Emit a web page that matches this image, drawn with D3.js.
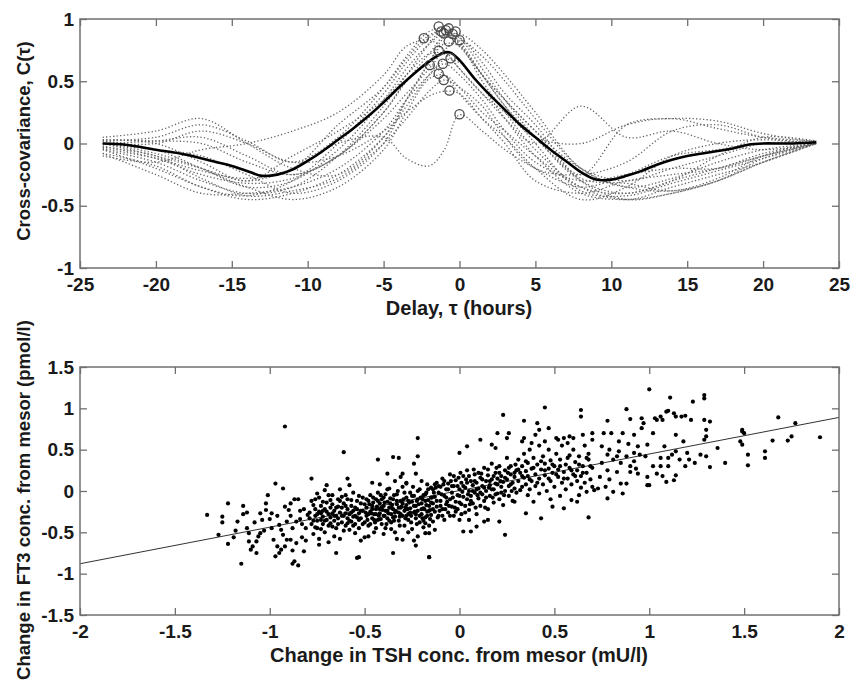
<!DOCTYPE html>
<html>
<head>
<meta charset="utf-8">
<script src="https://cdn.jsdelivr.net/npm/d3@7"></script>
<style>
  body { margin: 0; background: #fff; }
  svg text { font-family: "Liberation Sans", Arial, sans-serif; font-weight: bold; fill: #1a1a1a; }
</style>
</head>
<body>
<div id="chart"></div>
<script>
// ---- top panel: cross-covariance curves ----
const tauKnots = [-23.5, -20, -17, -14, -11, -8, -5, -3.5, -2, -1, 0, 1.5, 3, 5, 8, 11, 14, 17, 20, 23.5];

const subjectCurves = [
  [0.02, 0.05, 0.15, 0.02, -0.15, 0.05, 0.45, 0.70, 0.90, 0.92, 0.80, 0.55, 0.35, 0.10, -0.20, -0.30, -0.20, -0.10, 0.00, 0.01],
  [-0.05, -0.15, -0.30, -0.40, -0.35, -0.10, 0.30, 0.55, 0.80, 0.92, 0.85, 0.60, 0.35, 0.05, -0.30, -0.40, -0.30, -0.20, -0.10, 0.00],
  [0.00, -0.08, -0.20, -0.35, -0.30, -0.05, 0.35, 0.60, 0.80, 0.88, 0.80, 0.50, 0.25, -0.05, -0.35, -0.45, -0.35, -0.25, -0.15, 0.00],
  [0.05, 0.10, 0.20, 0.00, -0.20, -0.25, 0.05, 0.35, 0.65, 0.85, 0.88, 0.75, 0.55, 0.25, -0.20, -0.35, -0.38, -0.30, -0.12, 0.00],
  [-0.10, -0.15, -0.05, 0.00, 0.10, 0.25, 0.55, 0.78, 0.83, 0.75, 0.60, 0.40, 0.25, 0.05, 0.00, 0.15, 0.20, 0.12, 0.05, 0.02],
  [0.00, -0.05, -0.10, -0.25, -0.40, -0.30, 0.00, 0.35, 0.65, 0.80, 0.78, 0.55, 0.35, 0.10, -0.25, 0.15, 0.20, 0.18, 0.08, 0.01],
  [-0.02, -0.12, -0.25, -0.32, -0.28, -0.10, 0.20, 0.40, 0.60, 0.75, 0.83, 0.70, 0.50, 0.20, -0.20, -0.35, -0.28, -0.15, -0.05, 0.00],
  [0.03, 0.00, -0.15, -0.30, -0.10, 0.10, 0.35, 0.55, 0.72, 0.72, 0.60, 0.40, 0.20, 0.00, 0.30, 0.05, 0.10, 0.00, -0.05, 0.00],
  [-0.05, -0.20, -0.35, -0.45, -0.40, -0.25, 0.05, 0.30, 0.55, 0.67, 0.65, 0.45, 0.20, -0.10, -0.40, -0.45, -0.40, -0.30, -0.15, 0.00],
  [0.00, 0.02, 0.05, -0.10, -0.25, -0.10, 0.25, 0.50, 0.63, 0.55, 0.40, 0.20, 0.05, -0.20, -0.45, -0.35, -0.10, 0.00, 0.03, 0.00],
  [-0.08, -0.25, -0.40, -0.40, -0.35, -0.20, 0.10, 0.35, 0.55, 0.64, 0.55, 0.35, 0.10, -0.15, -0.30, -0.25, -0.20, -0.20, -0.10, 0.00],
  [0.02, -0.05, -0.20, -0.35, -0.45, -0.35, -0.05, 0.25, 0.52, 0.55, 0.45, 0.25, 0.10, -0.10, -0.35, -0.40, -0.30, -0.10, 0.05, 0.02],
  [-0.03, -0.10, -0.28, -0.42, -0.38, -0.28, 0.00, 0.20, 0.42, 0.51, 0.45, 0.30, 0.05, -0.20, -0.25, -0.15, 0.10, 0.15, 0.05, 0.00],
  [0.00, 0.00, 0.10, 0.00, -0.15, -0.10, 0.10, 0.25, 0.38, 0.42, 0.40, 0.20, 0.00, -0.30, -0.40, -0.30, -0.25, -0.20, -0.08, 0.00],
  [0.00, -0.10, -0.20, -0.30, -0.20, 0.00, 0.05, -0.12, -0.18, -0.05, 0.23, 0.10, -0.05, -0.20, -0.35, -0.25, -0.10, -0.05, 0.00, 0.00],
  [-0.08, -0.18, -0.35, -0.42, -0.30, 0.00, 0.40, 0.65, 0.85, 0.91, 0.82, 0.55, 0.30, 0.00, -0.38, -0.42, -0.32, -0.22, -0.12, 0.00],
  [0.03, 0.02, 0.00, -0.15, -0.25, -0.10, 0.25, 0.50, 0.72, 0.86, 0.85, 0.65, 0.40, 0.15, -0.30, -0.45, -0.40, -0.30, -0.15, 0.00],
  [-0.04, -0.12, -0.22, -0.28, -0.20, 0.15, 0.45, 0.68, 0.87, 0.90, 0.78, 0.55, 0.30, 0.05, -0.28, -0.32, -0.38, -0.28, -0.10, 0.01]
];

// mean curve (thick black)
const meanTau = [-23.5, -22, -20, -18, -16, -15, -14, -13, -12, -11, -10, -9, -8, -7, -6, -5, -4, -3, -2, -1, -0.6, 0,
  1, 2, 3, 4, 5, 6, 7, 8, 9, 10, 11, 12, 13, 14, 15, 16, 17, 18, 19, 20, 21, 22, 23.5];
const meanVal = [0, -0.01, -0.05, -0.09, -0.15, -0.18, -0.22, -0.26, -0.25, -0.21, -0.14, -0.06, 0.03, 0.12, 0.22, 0.33, 0.45, 0.56, 0.66, 0.73, 0.73, 0.67,
  0.52, 0.39, 0.27, 0.15, 0.05, -0.05, -0.14, -0.23, -0.29, -0.29, -0.26, -0.22, -0.17, -0.13, -0.10, -0.08, -0.06, -0.04, -0.01, 0.0, 0.0, 0.0, 0.01];

// peak of each subject curve
const peakTau = [-1.37, -0.71, -1.04, -0.26, -2.35, -0.71, 0.0, -1.37, -0.59, -1.96, -1.10, -1.37, -1.04, -0.66, 0.0, -0.9, -0.45, -1.2];
const peakVal = [0.94, 0.925, 0.885, 0.90, 0.845, 0.82, 0.83, 0.745, 0.685, 0.63, 0.64, 0.56, 0.51, 0.425, 0.235, 0.91, 0.88, 0.90];

const xTicksTop = [-25, -20, -15, -10, -5, 0, 5, 10, 15, 20, 25];
const yTicksTop = [-1, -0.5, 0, 0.5, 1];

// ---- bottom panel: TSH vs FT3 changes ----
const scatterPts = [
  // x < -0.8
  [-1.33,-0.29],[-1.25,-0.38],[-1.25,-0.31],[-1.27,-0.53],[-1.22,-0.15],[-1.22,-0.64],[-1.18,-0.48],[-1.15,-0.88],[-1.14,-0.18],[-1.14,-0.28],[-1.17,-0.37],
  [-1.12,-0.45],[-1.11,-0.51],[-1.11,-0.61],[-1.10,-0.71],[-1.07,-0.75],[-1.09,-0.67],[-1.07,-0.61],[-1.06,-0.55],[-1.05,-0.51],[-1.03,-0.48],[-1.04,-0.35],
  [-1.02,-0.23],[-1.02,-0.15],[-1.00,-0.34],[-0.99,-0.45],[-0.98,-0.59],[-0.96,-0.67],[-0.95,-0.75],[-0.97,-0.79],[-0.94,-0.71],[-0.92,-0.67],[-0.91,-0.59],
  [-0.93,-0.53],[-0.94,-0.47],[-0.95,-0.41],[-0.97,0.09],[-0.93,0.03],[-0.92,-0.19],[-0.89,-0.15],[-0.90,-0.23],[-0.89,-0.30],[-0.91,-0.37],[-0.88,-0.45],
  [-0.89,-0.59],[-0.88,-0.72],[-0.87,-0.85],[-0.88,-0.88],[-0.85,-0.90],[-0.82,-0.73],[-0.92,0.78],[-0.85,-0.10],[-0.87,-0.10],[-0.84,-0.34],[-0.83,-0.40],
  [-0.84,-0.24],[-0.82,-0.22],[-0.81,-0.45],[-0.83,-0.56],[-0.86,-0.63],[-0.80,-0.29],[-1.01,-0.05],[-0.99,-0.27],[-1.05,-0.27],[-1.08,-0.38],[-0.96,-0.30],
  [-0.86,-0.37],[-0.81,-0.60],[-0.78,0.15],[-1.12,-0.26],[-1.19,-0.56],
  // -0.8 .. -0.5
  [-0.77,-0.17],[-0.75,-0.03],[-0.74,-0.25],[-0.73,-0.35],[-0.72,-0.13],[-0.71,0.01],[-0.70,0.07],[-0.68,-0.11],[-0.67,-0.27],[-0.67,-0.43],[-0.66,-0.55],
  [-0.65,-0.75],[-0.64,-0.19],[-0.62,-0.07],[-0.61,0.47],[-0.60,-0.27],[-0.59,0.15],[-0.59,-0.39],[-0.58,0.07],[-0.57,-0.11],[-0.56,-0.31],[-0.55,-0.51],
  [-0.54,-0.81],[-0.53,-0.35],[-0.79,-0.33],[-0.78,-0.40],[-0.77,-0.52],[-0.76,-0.30],[-0.76,-0.22],[-0.75,-0.36],[-0.75,-0.45],[-0.74,-0.58],[-0.73,-0.27],
  [-0.73,-0.18],[-0.72,-0.40],[-0.72,-0.31],[-0.71,-0.22],[-0.71,-0.50],[-0.70,-0.35],[-0.70,-0.14],[-0.69,-0.28],[-0.69,-0.42],[-0.68,-0.32],[-0.68,-0.20],
  [-0.67,-0.05],[-0.66,-0.36],[-0.66,-0.24],[-0.65,-0.30],[-0.65,-0.45],[-0.64,-0.10],[-0.64,-0.33],[-0.63,-0.26],[-0.63,-0.58],[-0.62,-0.38],[-0.62,-0.20],
  [-0.61,-0.30],[-0.61,-0.15],[-0.60,-0.42],[-0.60,-0.05],[-0.59,-0.22],[-0.59,-0.33],[-0.58,-0.28],[-0.58,-0.47],[-0.57,-0.18],[-0.57,-0.37],[-0.56,-0.24],
  [-0.56,-0.02],[-0.55,-0.30],[-0.55,-0.40],[-0.54,-0.12],[-0.54,-0.22],[-0.53,-0.27],[-0.53,-0.45],[-0.52,-0.15],[-0.52,-0.33],[-0.51,-0.08],[-0.51,-0.24],
  [-0.50,-0.38],[-0.50,-0.56],[-0.52,-0.60],[-0.74,-0.65],[-0.69,-0.62],[-0.76,-0.10],[-0.63,0.02],
  [-0.79,-0.26],[-0.78,-0.12],[-0.77,-0.36],[-0.76,-0.44],[-0.75,-0.28],[-0.74,-0.08],[-0.73,-0.46],[-0.72,-0.24],[-0.71,-0.36],[-0.70,-0.25],[-0.69,-0.05],
  [-0.68,-0.39],[-0.67,-0.16],[-0.66,-0.30],[-0.65,-0.20],[-0.64,-0.40],[-0.63,-0.12],[-0.62,-0.30],[-0.61,-0.48],[-0.60,-0.18],[-0.59,-0.10],[-0.58,-0.36],
  [-0.57,-0.26],[-0.56,-0.42],[-0.55,-0.20],[-0.54,-0.32],[-0.53,-0.06],[-0.52,-0.24],[-0.51,-0.40],[-0.50,-0.16],
  // -0.5 .. -0.15
  [-0.43,0.38],[-0.35,0.41],[-0.32,0.40],[-0.22,0.64],[-0.22,0.42],[-0.24,0.33],[-0.35,-0.75],[-0.53,-0.80],[-0.16,-0.80],[-0.23,-0.66],[-0.30,-0.59],
  [-0.38,0.21],[-0.31,0.17],[-0.30,0.21],[-0.28,0.09],[-0.23,0.21],
  [-0.49,-0.20],[-0.49,-0.30],[-0.48,-0.12],[-0.48,-0.42],[-0.47,-0.25],[-0.47,-0.05],[-0.46,-0.33],[-0.46,-0.18],[-0.45,-0.28],[-0.45,-0.50],[-0.44,-0.10],
  [-0.44,-0.22],[-0.43,-0.35],[-0.43,-0.02],[-0.42,-0.27],[-0.42,-0.15],[-0.41,-0.40],[-0.41,-0.20],[-0.40,-0.30],[-0.40,-0.08],[-0.39,-0.24],[-0.39,-0.45],
  [-0.38,-0.13],[-0.38,-0.33],[-0.37,-0.20],[-0.37,0.03],[-0.36,-0.28],[-0.36,-0.38],[-0.35,-0.10],[-0.35,-0.22],[-0.34,-0.31],[-0.34,-0.50],[-0.33,-0.16],
  [-0.33,-0.04],[-0.32,-0.26],[-0.32,-0.36],[-0.31,-0.12],[-0.31,-0.20],[-0.30,-0.30],[-0.30,0.05],[-0.29,-0.24],[-0.29,-0.42],[-0.28,-0.08],[-0.28,-0.17],
  [-0.27,-0.28],[-0.27,-0.35],[-0.26,-0.02],[-0.26,-0.21],[-0.25,-0.13],[-0.25,-0.46],[-0.24,-0.26],[-0.24,-0.06],[-0.23,-0.33],[-0.23,-0.18],[-0.22,-0.10],
  [-0.22,-0.24],[-0.21,0.02],[-0.21,-0.38],[-0.20,-0.15],[-0.20,-0.28],[-0.19,-0.05],[-0.19,-0.21],[-0.18,-0.32],[-0.18,-0.12],[-0.17,0.08],[-0.17,-0.25],
  [-0.16,-0.18],[-0.16,-0.42],[-0.15,-0.08],[-0.15,-0.29],
  [-0.485,-0.35],[-0.475,-0.16],[-0.465,-0.27],[-0.455,-0.08],[-0.445,-0.38],[-0.435,-0.19],[-0.425,-0.30],[-0.415,-0.05],[-0.405,-0.23],[-0.395,-0.14],
  [-0.385,-0.40],[-0.375,-0.27],[-0.365,-0.09],[-0.355,-0.17],[-0.345,-0.36],[-0.335,-0.24],[-0.325,0.00],[-0.315,-0.31],[-0.305,-0.19],[-0.295,-0.10],
  [-0.285,-0.33],[-0.275,-0.22],[-0.265,-0.14],[-0.255,-0.30],[-0.245,0.05],[-0.235,-0.25],[-0.225,-0.40],[-0.215,-0.16],[-0.205,-0.08],[-0.195,-0.33],
  [-0.185,-0.22],[-0.175,-0.02],[-0.165,-0.11],[-0.155,-0.23],
  [-0.48,-0.55],[-0.44,-0.45],[-0.40,-0.52],[-0.36,-0.46],[-0.33,-0.58],[-0.27,-0.50],[-0.22,-0.55],[-0.19,-0.44],[-0.42,0.08],[-0.34,0.12],[-0.28,0.10],
  [-0.20,0.12],[-0.46,0.10],[-0.38,0.02],[-0.24,-0.60],
  [-0.495,-0.26],[-0.49,-0.10],[-0.48,-0.28],[-0.47,-0.40],[-0.46,-0.22],[-0.455,-0.14],[-0.45,-0.35],[-0.44,-0.28],[-0.43,-0.12],[-0.42,-0.22],
  [-0.415,-0.34],[-0.41,-0.10],[-0.40,-0.18],[-0.395,-0.30],[-0.39,-0.04],[-0.38,-0.24],[-0.37,-0.36],[-0.365,-0.15],[-0.36,-0.20],[-0.35,-0.32],
  [-0.345,-0.05],[-0.34,-0.26],[-0.33,-0.12],[-0.32,-0.20],[-0.315,-0.42],[-0.31,-0.28],[-0.30,-0.15],[-0.29,-0.02],[-0.285,-0.20],[-0.28,-0.30],
  [-0.27,-0.12],[-0.26,-0.26],[-0.255,-0.38],[-0.25,-0.06],[-0.24,-0.18],[-0.23,-0.28],[-0.225,-0.12],[-0.22,0.00],[-0.21,-0.30],[-0.20,-0.22],
  [-0.195,-0.10],[-0.19,-0.36],[-0.18,-0.04],[-0.175,-0.17],[-0.17,-0.30],[-0.165,0.02],[-0.16,-0.24],[-0.155,-0.34],[-0.15,-0.14],[-0.15,0.04],
  // -0.15 .. 0.3
  [0.23,0.92],[0.00,0.46],[0.20,0.70],[0.26,0.70],[0.25,0.64],[0.11,0.62],[0.04,0.54],[0.17,0.56],[0.19,0.52],
  [-0.16,-0.80],[0.24,-0.53],[0.02,-0.49],[0.06,-0.49],[0.00,-0.35],[0.05,-0.35],[0.09,-0.43],[0.13,-0.37],[0.15,-0.35],[0.21,-0.37],[-0.18,-0.51],
  [-0.16,-0.51],[-0.13,-0.47],[-0.18,-0.39],[-0.14,-0.37],
  [-0.14,-0.15],[-0.14,0.02],[-0.13,-0.25],[-0.13,-0.07],[-0.12,0.10],[-0.12,-0.19],[-0.11,-0.30],[-0.11,-0.02],[-0.10,-0.12],[-0.10,0.05],[-0.09,-0.22],
  [-0.09,0.15],[-0.08,-0.06],[-0.08,-0.35],[-0.07,-0.16],[-0.07,0.02],[-0.06,-0.26],[-0.06,0.09],[-0.05,-0.10],[-0.05,0.20],[-0.04,-0.19],[-0.04,-0.02],
  [-0.03,-0.30],[-0.03,0.06],[-0.02,-0.13],[-0.02,0.13],[-0.01,-0.05],[-0.01,-0.22],[0.00,0.02],[0.00,-0.14],[0.01,0.10],[0.01,-0.28],[0.02,-0.07],
  [0.02,0.18],[0.03,-0.18],[0.03,0.04],[0.04,-0.10],[0.04,0.25],[0.05,0.00],[0.05,-0.23],[0.06,0.12],[0.06,-0.06],[0.07,-0.15],[0.07,0.07],[0.08,0.20],
  [0.08,-0.02],[0.09,-0.28],[0.09,0.10],[0.10,-0.09],[0.10,0.03],[0.11,0.16],[0.11,-0.18],[0.12,0.06],[0.12,-0.04],[0.13,0.28],[0.13,-0.12],[0.14,0.12],
  [0.14,0.00],[0.15,-0.22],[0.15,0.19],[0.16,0.07],[0.16,-0.06],[0.17,0.33],[0.17,0.14],[0.18,-0.14],[0.18,0.02],[0.19,0.22],[0.19,0.09],[0.20,-0.03],
  [0.20,0.15],[0.21,0.30],[0.21,-0.10],[0.22,0.05],[0.22,0.18],[0.23,0.11],[0.23,-0.17],[0.24,0.25],[0.24,0.00],[0.25,0.14],[0.25,0.40],[0.26,0.06],
  [0.26,-0.06],[0.27,0.20],[0.27,0.30],[0.28,0.10],[0.28,-0.12],[0.29,0.17],[0.29,0.03],[0.30,0.25],[0.30,-0.02],
  [-0.145,-0.08],[-0.125,0.04],[-0.105,-0.24],[-0.085,0.08],[-0.065,-0.13],[-0.045,0.12],[-0.025,-0.20],[-0.005,0.16],[0.015,-0.01],[0.035,0.14],
  [0.055,-0.16],[0.075,0.26],[0.095,-0.05],[0.115,0.21],[0.135,-0.20],[0.155,0.04],[0.175,-0.08],[0.195,0.28],[0.215,0.12],[0.235,-0.05],[0.255,0.22],
  [0.275,0.00],[0.295,0.32],
  [-0.14,-0.22],[-0.135,-0.02],[-0.13,0.08],[-0.12,-0.12],[-0.115,-0.32],[-0.11,0.06],[-0.10,-0.18],[-0.095,-0.04],[-0.09,-0.30],[-0.08,0.12],
  [-0.075,-0.22],[-0.07,-0.08],[-0.06,0.02],[-0.055,-0.18],[-0.05,-0.30],[-0.04,0.06],[-0.035,-0.08],[-0.03,0.18],[-0.02,-0.25],[-0.01,0.06],
  [0.00,-0.06],[0.005,0.22],[0.01,-0.16],[0.02,0.06],[0.03,-0.26],[0.04,0.10],[0.045,-0.04],[0.05,0.18],[0.06,-0.12],[0.07,0.00],
  [0.08,0.12],[0.085,-0.20],[0.09,0.02],[0.10,0.22],[0.11,-0.02],[0.12,0.14],[0.13,0.04],[0.14,-0.08],[0.15,0.26],[0.16,0.12],
  [0.17,0.02],[0.18,0.18],[0.19,-0.04],[0.20,0.08],[0.21,0.22],[0.22,-0.02],[0.24,0.16],[0.26,0.28],[0.27,0.08],[0.29,0.22],
  // 0.3 .. 0.7
  [0.45,1.01],[0.34,0.85],[0.41,0.82],[0.42,0.74],[0.47,0.76],[0.40,0.68],[0.34,0.64],[0.51,0.64],[0.55,0.64],[0.58,0.66],[0.60,0.64],[0.64,0.98],
  [0.64,0.90],[0.65,0.68],[0.70,0.70],[0.70,0.62],[0.43,-0.33],[0.49,-0.19],[0.55,-0.21],[0.68,-0.32],[0.35,-0.27],[0.29,-0.13],[0.39,-0.13],[0.32,0.01],
  [0.59,-0.11],[0.62,-0.13],[0.71,0.01],[0.67,-0.01],
  [0.31,0.12],[0.31,0.38],[0.32,0.22],[0.33,0.05],[0.33,0.30],[0.34,0.16],[0.34,0.45],[0.35,0.24],[0.35,0.08],[0.36,0.34],[0.36,0.18],[0.37,0.50],
  [0.37,0.02],[0.38,0.27],[0.38,0.12],[0.39,0.40],[0.40,0.20],[0.40,0.06],[0.41,0.32],[0.42,0.15],[0.42,0.55],[0.43,0.26],[0.44,0.08],[0.44,0.42],
  [0.45,0.19],[0.45,0.33],[0.46,0.00],[0.47,0.27],[0.47,0.50],[0.48,0.12],[0.48,0.37],[0.49,0.22],[0.50,0.05],[0.50,0.30],[0.51,0.45],[0.52,0.17],
  [0.52,0.26],[0.53,0.38],[0.54,0.10],[0.54,0.55],[0.55,0.23],[0.56,0.32],[0.56,0.02],[0.57,0.15],[0.58,0.43],[0.58,0.28],[0.59,0.08],[0.60,0.20],
  [0.60,0.50],[0.61,0.35],[0.62,0.12],[0.62,0.25],[0.63,0.42],[0.64,0.18],[0.64,0.04],[0.65,0.30],[0.66,0.55],[0.66,0.10],[0.67,0.22],[0.68,0.38],
  [0.68,0.45],[0.69,0.14],[0.70,0.28],[0.70,0.05],[0.33,0.60],[0.38,0.58],[0.45,0.60],[0.52,0.62],[0.57,0.58],[0.36,-0.05],[0.42,-0.03],[0.53,-0.06],
  [0.48,-0.10],[0.63,-0.05],
  [0.31,0.26],[0.33,0.18],[0.35,0.36],[0.37,0.14],[0.39,0.28],[0.41,0.10],[0.43,0.36],[0.45,0.25],[0.47,0.15],[0.49,0.32],[0.51,0.20],[0.53,0.30],
  [0.55,0.15],[0.57,0.40],[0.59,0.25],[0.61,0.18],[0.63,0.32],[0.65,0.22],[0.67,0.40],[0.69,0.30],
  // 0.7 .. 1.0
  [0.78,0.85],[0.80,0.70],[0.76,0.70],[0.88,0.99],[0.90,0.87],[0.96,0.88],[0.97,0.82],[0.96,0.76],[0.86,0.70],[0.92,0.68],[0.84,0.60],[0.89,0.57],
  [0.94,0.54],[0.99,0.56],[0.79,0.50],[0.84,0.48],[0.78,0.44],[0.88,0.42],[0.92,0.46],[0.95,0.44],[0.81,0.38],[0.75,0.34],[0.85,0.34],[0.90,0.30],
  [0.78,0.25],[0.83,0.23],[0.90,0.23],[0.93,0.27],[0.74,0.17],[0.79,0.14],[0.85,0.09],[0.77,0.05],[0.81,-0.01],[0.88,0.09],[0.73,0.03],[0.94,0.21],
  [0.99,0.17],[0.99,0.07],[0.92,0.36],[0.98,0.42],[0.86,-0.03],[0.78,-0.09],[0.83,0.42],[0.75,0.54],
  // 1.0 .. 1.35
  [1.00,1.23],[1.11,1.13],[1.29,1.16],[1.29,1.12],[1.23,1.08],[1.04,0.86],[1.06,0.90],[1.09,0.96],[1.10,0.97],[1.13,0.94],[1.14,0.90],[1.17,0.90],
  [1.19,0.91],[1.22,0.86],[1.03,0.88],[1.07,0.86],[1.29,0.86],[1.32,0.84],[1.30,0.74],[1.30,0.66],[1.29,0.62],[1.14,0.68],[1.02,0.70],[1.08,0.54],
  [1.18,0.60],[1.14,0.48],[1.20,0.46],[1.21,0.38],[1.24,0.34],[1.19,0.30],[1.14,0.19],[1.13,0.13],[1.09,0.11],[1.07,0.18],[1.06,0.30],[1.04,0.21],
  [1.00,0.07],[1.30,0.42],[1.32,0.29],[1.36,0.52],[1.27,0.44],[1.06,0.40],[1.10,0.30],[1.02,0.30],[1.16,0.38],[1.12,0.44],[1.10,0.40],
  // > 1.35
  [1.40,0.34],[1.49,0.74],[1.49,0.72],[1.48,0.60],[1.49,0.56],[1.52,0.44],[1.52,0.31],[1.61,0.48],[1.61,0.40],[1.65,0.61],[1.68,0.89],[1.73,0.61],
  [1.75,0.66],[1.77,0.82],[1.90,0.65],[1.50,0.70]
];

// least-squares line end points
const fitLine = [[-2, -0.88], [2, 0.89]];

const xTicksBot = [-2, -1.5, -1, -0.5, 0, 0.5, 1, 1.5, 2];
const yTicksBot = [-1.5, -1, -0.5, 0, 0.5, 1, 1.5];

const W = 850, H = 685;
const svg = d3.select('#chart').append('svg')
    .attr('width', W)
    .attr('height', H);

const frameColor = '#707070';
const fmt = d => String(d);

// draws the matlab-style box with inward ticks on all four sides
function drawBox(x, y, xTicks, yTicks) {
    const [x0, x1] = x.range();
    const [y0, y1] = y.range(); // y0 bottom, y1 top
    const g = svg.append('g');

    g.append('rect')
        .attr('x', x0).attr('y', y1)
        .attr('width', x1 - x0).attr('height', y0 - y1)
        .attr('fill', 'none')
        .attr('stroke', frameColor)
        .attr('stroke-width', 1.5);

    const axes = [
        [d3.axisBottom(x).tickValues(xTicks).tickFormat(fmt), `translate(0,${y0})`],
        [d3.axisTop(x).tickValues(xTicks).tickFormat(''), `translate(0,${y1})`],
        [d3.axisLeft(y).tickValues(yTicks).tickFormat(fmt), `translate(${x0},0)`],
        [d3.axisRight(y).tickValues(yTicks).tickFormat(''), `translate(${x1},0)`]
    ];
    axes.forEach(function(a, i) {
        const ax = g.append('g')
            .attr('transform', a[1])
            .call(a[0].tickSize(-7).tickPadding(i == 0 ? 10 : 6));
        ax.select('.domain').remove();
        ax.selectAll('.tick line').attr('stroke', frameColor).attr('stroke-width', 1.3);
        ax.selectAll('text')
            .style('font-size', '19px')
            .attr('fill', '#1a1a1a');
    });
}

// ---- top panel ----
const xTop = d3.scaleLinear().domain([-25, 25]).range([80, 839]);
const yTop = d3.scaleLinear().domain([-1, 1]).range([268, 19]);

const thinLine = d3.line()
    .x((d, i) => xTop(tauKnots[i]))
    .y(d => yTop(d))
    .curve(d3.curveCatmullRom.alpha(0.5));

svg.append('g').selectAll('.subject')
    .data(subjectCurves)
  .enter().append('path')
    .attr('class', 'subject')
    .attr('d', thinLine)
    .attr('fill', 'none')
    .attr('stroke', '#666')
    .attr('stroke-width', 1.3)
    .attr('stroke-dasharray', '1.3,2.2');

const meanLine = d3.line()
    .x((d, i) => xTop(meanTau[i]))
    .y(d => yTop(d))
    .curve(d3.curveCatmullRom.alpha(0.5));

svg.append('path')
    .datum(meanVal)
    .attr('d', meanLine)
    .attr('fill', 'none')
    .attr('stroke', '#000')
    .attr('stroke-width', 2.6);

svg.append('g').selectAll('circle')
    .data(peakVal)
  .enter().append('circle')
    .attr('cx', (d, i) => xTop(peakTau[i]))
    .attr('cy', d => yTop(d))
    .attr('r', 4.6)
    .attr('fill', 'none')
    .attr('stroke', '#4a4a4a')
    .attr('stroke-width', 1.3);

drawBox(xTop, yTop, xTicksTop, yTicksTop);

svg.append('text')
    .attr('x', 459).attr('y', 315)
    .attr('text-anchor', 'middle')
    .style('font-size', '20px')
    .text('Delay, \u03c4 (hours)');

svg.append('text')
    .attr('transform', 'translate(30,141) rotate(-90)')
    .attr('text-anchor', 'middle')
    .style('font-size', '18.5px')
    .text('Cross-covariance, C(\u03c4)');

// ---- bottom panel ----
const xBot = d3.scaleLinear().domain([-2, 2]).range([80, 839]);
const yBot = d3.scaleLinear().domain([-1.5, 1.5]).range([615, 367]);

svg.append('path')
    .datum(fitLine)
    .attr('d', d3.line().x(d => xBot(d[0])).y(d => yBot(d[1])))
    .attr('stroke', '#333')
    .attr('stroke-width', 1)
    .attr('fill', 'none');

svg.append('g').selectAll('.pt')
    .data(scatterPts)
  .enter().append('circle')
    .attr('class', 'pt')
    .attr('cx', d => xBot(d[0]))
    .attr('cy', d => yBot(d[1]))
    .attr('r', 2.1)
    .attr('fill', '#000');

drawBox(xBot, yBot, xTicksBot, yTicksBot);

svg.append('text')
    .attr('x', 459).attr('y', 662)
    .attr('text-anchor', 'middle')
    .style('font-size', '20px')
    .text('Change in TSH conc. from mesor (mU/l)');

svg.append('text')
    .attr('transform', 'translate(30,500) rotate(-90)')
    .attr('text-anchor', 'middle')
    .style('font-size', '18.5px')
    .text('Change in FT3 conc. from mesor (pmol/l)');
</script>
</body>
</html>
